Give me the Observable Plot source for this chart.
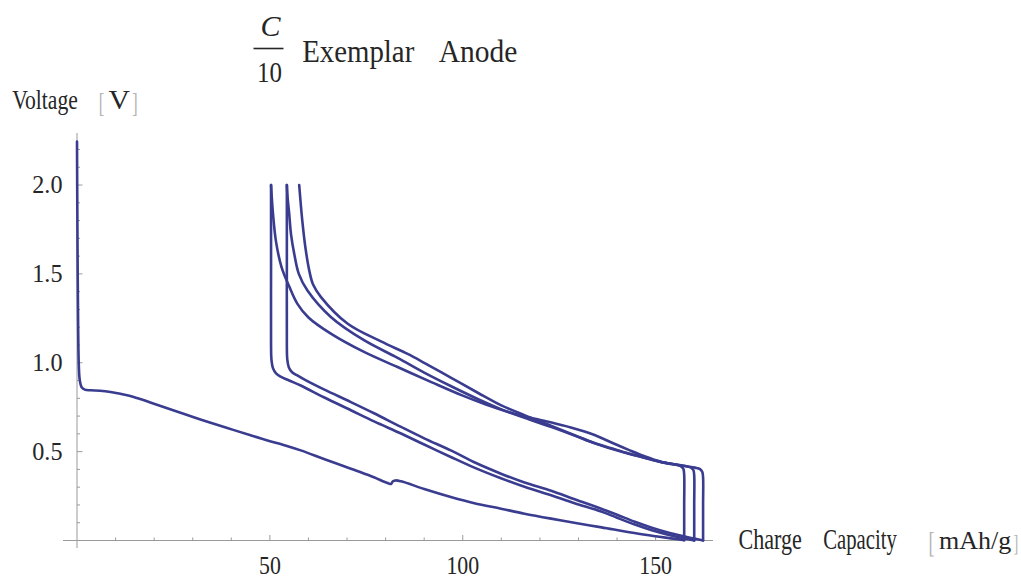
<!DOCTYPE html>
<html>
<head>
<meta charset="utf-8">
<script src="https://cdn.jsdelivr.net/npm/d3@7"></script>
<script src="https://cdn.jsdelivr.net/npm/@observablehq/plot@0.6"></script>
<style>
  html, body { margin: 0; padding: 0; background: #fff; }
  #chart svg { display: block; }
</style>
</head>
<body>
<div id="chart"></div>
<script>
// ---- Data: [charge capacity (mAh/g), voltage (V)] ----
const discharge1 = [
  [0, 2.245], [0.05, 2.0], [0.15, 1.6], [0.3, 1.2], [0.45, 1.0], [0.7, 0.905], [1.2, 0.862],
  [2, 0.849], [3.5, 0.845], [6, 0.843], [8.7, 0.836], [11.5, 0.824], [14.7, 0.808], [19, 0.777],
  [23.4, 0.744], [28, 0.71], [32, 0.681], [36.5, 0.65], [40.7, 0.621], [45, 0.592], [49.4, 0.563],
  [54, 0.535], [58, 0.507], [64, 0.459], [71, 0.404], [76, 0.364], [80.8, 0.321], [81.4, 0.318],
  [81.9, 0.333], [82.6, 0.338], [84, 0.333], [90, 0.29], [96.9, 0.245], [103, 0.21], [109.9, 0.179],
  [116, 0.151], [122.9, 0.123], [130, 0.096], [136, 0.074], [144.5, 0.042], [150, 0.024],
  [154, 0.012], [157.4, 0.002]
];
const charge1 = [
  [157.4, 0.002], [157.4, 0.2], [157.4, 0.37], [157.2, 0.402], [156.6, 0.417], [155.8, 0.424],
  [151.4, 0.443], [147, 0.475], [143, 0.51], [139, 0.547], [134, 0.595], [128, 0.636],
  [123, 0.664], [117, 0.693], [112, 0.722], [106, 0.765], [100, 0.815], [92, 0.89], [83.1, 0.976],
  [74.4, 1.061], [65.8, 1.164], [60, 1.255], [57.1, 1.333], [55, 1.43], [53, 1.54], [51.6, 1.68],
  [50.8, 1.84], [50.3, 2.0]
];
const discharge2 = [
  [50.3, 2.0], [50.3, 1.5], [50.3, 1.1], [50.4, 1.02], [50.8, 0.97], [51.6, 0.94], [52.8, 0.922],
  [55, 0.9], [58, 0.872], [64, 0.806], [71, 0.733], [77, 0.67], [84, 0.602], [90, 0.54],
  [96.9, 0.47], [103, 0.41], [109.9, 0.35], [116, 0.302], [122.9, 0.255], [129, 0.21],
  [135.9, 0.163], [140, 0.128], [144.6, 0.09], [149, 0.058], [153.2, 0.033], [157, 0.014], [160, 0.0]
];
const charge2 = [
  [160, 0.0], [160, 0.2], [160, 0.365], [159.8, 0.395], [159.2, 0.41], [158, 0.418], [155.8, 0.425],
  [151.4, 0.441], [147, 0.466], [143, 0.488], [139, 0.513], [134, 0.548], [129, 0.59], [123, 0.638],
  [116, 0.69], [110, 0.738], [104, 0.795], [97, 0.868], [90, 0.945], [83.1, 1.028], [74.4, 1.127],
  [65.8, 1.258], [59.7, 1.408], [57.5, 1.5], [56.3, 1.615], [55.5, 1.72], [55, 1.84], [54.6, 1.93],
  [54.4, 2.0]
];
const discharge3 = [
  [54.4, 2.0], [54.4, 1.5], [54.4, 1.1], [54.5, 1.02], [54.9, 0.975], [55.7, 0.948], [57, 0.93],
  [59, 0.905], [64, 0.85], [71, 0.779], [77, 0.716], [84, 0.639], [90, 0.575], [96.9, 0.507],
  [103, 0.44], [109.9, 0.376], [116, 0.326], [122.9, 0.28], [129, 0.232], [135.9, 0.179],
  [140, 0.145], [144.6, 0.105], [149, 0.072], [153.2, 0.045], [157, 0.025], [160, 0.011], [162.3, 0.0]
];
const charge3 = [
  [162.3, 0.0], [162.3, 0.2], [162.3, 0.355], [162.1, 0.385], [161.5, 0.402], [160.2, 0.41],
  [158, 0.418], [155.8, 0.426], [151.4, 0.442], [147, 0.467], [143, 0.49], [139, 0.516],
  [134, 0.55], [129, 0.592], [123, 0.645], [116, 0.705], [110, 0.76], [104, 0.83], [97, 0.915],
  [90, 1.0], [85.7, 1.05], [78.8, 1.12], [70.1, 1.221], [63.2, 1.371], [61.2, 1.44], [60.2, 1.52],
  [59.2, 1.65], [58.4, 1.80], [57.9, 1.92], [57.6, 2.0]
];

const xMajorTicks = [50, 100, 150];
const xMinorTicks = [10, 20, 30, 40, 60, 70, 80, 90, 110, 120, 130, 140, 160];
const yMajorTicks = [0.5, 1.0, 1.5, 2.0];
const yMinorTicks = [0.1, 0.2, 0.3, 0.4, 0.6, 0.7, 0.8, 0.9, 1.1, 1.2, 1.3, 1.4, 1.6, 1.7, 1.8, 1.9, 2.1, 2.2];
const xDomain = [-3.5, 165];
const yDomain = [-0.045, 2.29];

// ---- Build table ----
const series = [
  ["discharge 1", discharge1], ["charge 1", charge1],
  ["discharge 2", discharge2], ["charge 2", charge2],
  ["discharge 3", discharge3], ["charge 3", charge3]
];
const rows = series.flatMap(([name, pts]) => pts.map(([x, v]) => ({name, x, v})));

// ---- Style ----
const CURVE = "#3a3c90";
const AXIS = "#9a9a9a";
const INK = "#262626";
const BRACKET = "#b4b4b4";
const FONT = "'Liberation Serif', 'Times New Roman', Times, serif";
const W = 1021, H = 580;
const M = {left: 63, right: 308, top: 133, bottom: 32};

const tickUp = {draw(ctx, size) { const l = Math.sqrt(size / Math.PI); ctx.moveTo(0, 0); ctx.lineTo(0, -l); }};
const tickRight = {draw(ctx, size) { const l = Math.sqrt(size / Math.PI); ctx.moveTo(0, 0); ctx.lineTo(l, 0); }};

// free-standing label placed at page coordinates (baseline)
function label(text, px, py, {size = 28, anchor = "start", color = INK, italic = false, squeeze = 1} = {}) {
  return Plot.text([text], {
    frameAnchor: "top-left", dx: px - M.left, dy: py - M.top,
    text: d => d, fontSize: size, fontFamily: FONT, textAnchor: anchor,
    lineAnchor: "bottom", fill: color, fontStyle: italic ? "italic" : "normal",
    ariaDescription: `squeeze ${squeeze}`
  });
}

const chart = Plot.plot({
  width: W, height: H,
  marginLeft: M.left, marginRight: M.right, marginTop: M.top, marginBottom: M.bottom,
  x: {domain: xDomain, axis: null},
  y: {domain: yDomain, axis: null},
  style: {background: "white", overflow: "visible"},
  marks: [
    // axes
    Plot.ruleY([0], {stroke: AXIS, strokeWidth: 1}),
    Plot.ruleX([0], {stroke: AXIS, strokeWidth: 1}),
    Plot.dot(xMinorTicks, {x: d => d, y: 0, r: 3, symbol: tickUp, stroke: AXIS, fill: "none", strokeWidth: 1}),
    Plot.dot(xMajorTicks, {x: d => d, y: 0, r: 5.5, symbol: tickUp, stroke: AXIS, fill: "none", strokeWidth: 1}),
    Plot.dot(yMinorTicks, {x: 0, y: d => d, r: 3, symbol: tickRight, stroke: AXIS, fill: "none", strokeWidth: 1}),
    Plot.dot(yMajorTicks, {x: 0, y: d => d, r: 5.5, symbol: tickRight, stroke: AXIS, fill: "none", strokeWidth: 1}),
    Plot.text(xMajorTicks, {x: d => d, y: 0, dy: 33, lineAnchor: "bottom", text: d => String(d),
      fontSize: 26, fontFamily: FONT, fill: INK, ariaDescription: "squeeze 0.84"}),
    Plot.text(yMajorTicks, {x: 0, y: d => d, dx: -14.5, textAnchor: "end", lineAnchor: "middle",
      text: d => d.toFixed(1), fontSize: 26, fontFamily: FONT, fill: INK, ariaDescription: "squeeze 0.93"}),
    // curves
    Plot.line(rows, {x: "x", y: "v", z: "name", stroke: CURVE, strokeWidth: 2.6, curve: "catmull-rom"}),
    // title
    label("C", 270, 35.5, {size: 30, anchor: "middle", italic: true}),
    label("10", 269, 81.5, {size: 29, anchor: "middle", squeeze: 0.86}),
    label("Exemplar", 301.7, 61.5, {size: 31, squeeze: 0.93}),
    label("Anode", 438.3, 61.5, {size: 31, squeeze: 0.95}),
    // y label
    label("Voltage", 11.7, 108.3, {size: 27, squeeze: 0.8}),
    label("[", 101, 111, {size: 27, anchor: "middle", color: BRACKET, squeeze: 0.6}),
    label("V", 108, 108.3, {size: 27, squeeze: 1.1}),
    label("]", 134.5, 111, {size: 27, anchor: "middle", color: BRACKET, squeeze: 0.6}),
    // x label
    label("Charge", 738, 548.3, {size: 30, squeeze: 0.735}),
    label("Capacity", 822.7, 548.3, {size: 30, squeeze: 0.69}),
    label("[", 931, 551, {size: 30, anchor: "middle", color: BRACKET, squeeze: 0.6}),
    label("mAh/g", 938.5, 548.3, {size: 26, squeeze: 1}),
    label("]", 1015.5, 550, {size: 24, anchor: "middle", color: BRACKET, squeeze: 0.6})
  ]
});

document.getElementById("chart").append(chart);

// fraction bar of the title
d3.select(chart).append("line")
  .attr("x1", 253.5).attr("x2", 283.5).attr("y1", 48.5).attr("y2", 48.5)
  .attr("stroke", INK).attr("stroke-width", 1.6);

// horizontally condense the text like the original rendering
chart.querySelectorAll("g[aria-description^='squeeze']").forEach(g => {
  const f = +g.getAttribute("aria-description").split(" ")[1];
  if (!(f > 0) || f === 1) return;
  g.querySelectorAll("text").forEach(t => {
    const w = t.getComputedTextLength();
    if (w > 0) {
      t.setAttribute("textLength", (w * f).toFixed(2));
      t.setAttribute("lengthAdjust", "spacingAndGlyphs");
    }
  });
});
</script>
</body>
</html>
